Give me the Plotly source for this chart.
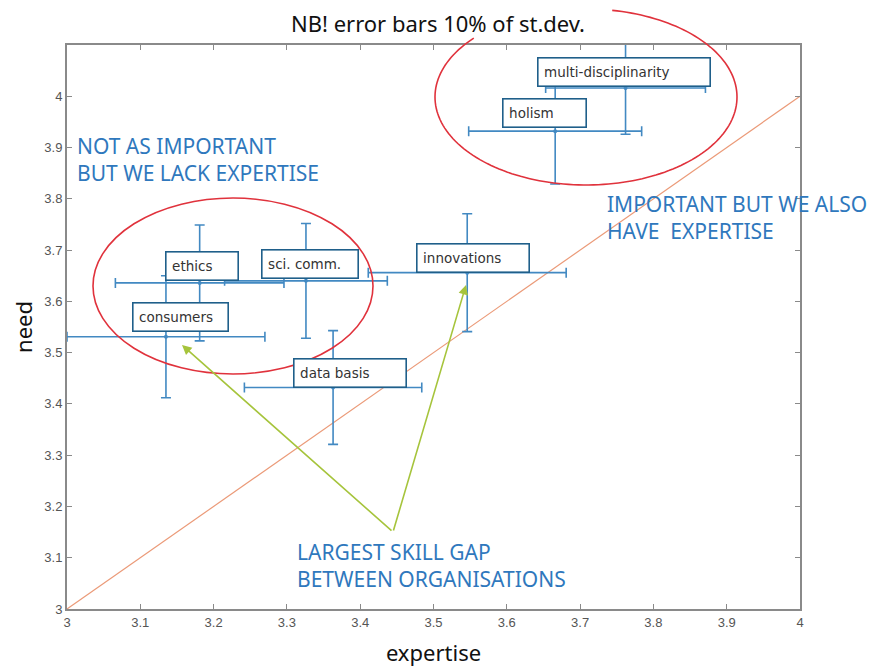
import numpy as np
import plotly.graph_objects as go

# ---- data ----
skills = ["multi-disciplinarity", "holism", "innovations", "sci. comm.",
          "ethics", "consumers", "data basis"]
expertise = [3.762, 3.666, 3.546, 3.326, 3.181, 3.135, 3.363]
need = [4.016, 3.932, 3.656, 3.640, 3.636, 3.531, 3.432]
expertise_err = [0.109, 0.118, 0.135, 0.111, 0.115, 0.135, 0.121]
need_err = [0.090, 0.103, 0.115, 0.112, 0.113, 0.119, 0.111]
diag = [3, 4]

# ---- styling / placement ----
X_RANGE = [3, 4]
Y_RANGE = [3, 4.1]
PAGE_OFF = 8                       # default body margin of the html page
SW, SH = 875, 671                  # screen size
W, H = SW - PAGE_OFF, SH - PAGE_OFF
# plot area in screen pixels
PX0, PX1, PY0, PY1 = 67, 800, 45, 609
L, R, T, B = PX0 - PAGE_OFF, SW - PX1, PY0 - PAGE_OFF, SH - PY1
PW, PH = PX1 - PX0, PY1 - PY0

# label box: pixel shift of box bottom-left from the point, box width
label_shift = [(-89, 1), (-53, 3), (-51, 0), (-45, 2), (-35, 2), (-34, 5), (-40, 0)]
label_width = [174, 85, 114, 98, 74, 97, 114]

ERR_BLUE = "#4289c2"
BOX_EDGE = "#1f5f8a"
TXT_BLUE = "#2f78bd"
RED = "#e0323c"
GREEN = "#a6c43c"
ORANGE = "#eb9a78"
AXIS_GREY = "#8a8a8a"


def px2paper(px, py):
    return (px - PX0) / PW, (PY1 - py) / PH


fig = go.Figure()

fig.add_trace(go.Scatter(
    x=diag, y=diag, mode="lines",
    line=dict(color=ORANGE, width=1.2), hoverinfo="skip", showlegend=False))

fig.add_trace(go.Scatter(
    x=expertise, y=need, mode="markers",
    marker=dict(color=ERR_BLUE, size=4),
    error_x=dict(type="data", array=expertise_err, color=ERR_BLUE, thickness=1.6, width=5),
    error_y=dict(type="data", array=need_err, color=ERR_BLUE, thickness=1.6, width=5),
    showlegend=False))

annotations = []
for name, x, y, (dx, dy), bw in zip(skills, expertise, need, label_shift, label_width):
    annotations.append(dict(
        x=x, y=y, xref="x", yref="y", text=name, showarrow=False,
        xanchor="left", yanchor="bottom", xshift=dx, yshift=dy,
        align="left", valign="middle", width=bw - 14, height=16,
        bgcolor="white", bordercolor=BOX_EDGE, borderwidth=1.6, borderpad=5.5,
        font=dict(family="DejaVu Sans", size=13.5, color="#333333")))

# blue commentary texts
for txt, (px, py) in [
        ("NOT AS IMPORTANT<br>BUT WE LACK EXPERTISE", (75, 159)),
        ("IMPORTANT BUT WE ALSO<br>HAVE  EXPERTISE", (605, 218)),
        ("LARGEST SKILL GAP<br>BETWEEN ORGANISATIONS", (295, 565))]:
    ax_, ay_ = px2paper(px, py)
    annotations.append(dict(
        x=ax_, y=ay_, xref="paper", yref="paper", text=txt, showarrow=False,
        xanchor="left", yanchor="middle", align="left",
        font=dict(family="Noto Sans", size=21, color=TXT_BLUE)))

# green arrows from the "largest skill gap" note
tail_px = (393, 532)
for head in [(182, 345), (466, 285)]:
    hx, hy = px2paper(*head)
    annotations.append(dict(
        x=hx, y=hy, xref="paper", yref="paper",
        ax=tail_px[0] - head[0], ay=tail_px[1] - head[1],
        axref="pixel", ayref="pixel", text="", showarrow=True,
        arrowhead=2, arrowsize=1.2, arrowwidth=1.6, arrowcolor=GREEN))

# red ellipses (hand-drawn highlights)
shapes = []
x0, y0 = px2paper(93, 374)
x1, y1 = px2paper(373, 198)
shapes.append(dict(type="circle", xref="paper", yref="paper",
                   x0=x0, y0=y0, x1=x1, y1=y1,
                   line=dict(color=RED, width=1.6)))

cx, cy, rx, ry = 586, 97, 151, 88
t = np.radians(np.linspace(138, 440, 160))
pts = [px2paper(cx + rx * np.cos(a), cy - ry * np.sin(a)) for a in t]
path = "M " + " L ".join(f"{p[0]:.5f},{p[1]:.5f}" for p in pts)
shapes.append(dict(type="path", xref="paper", yref="paper", path=path,
                   line=dict(color=RED, width=1.6)))

ticks = [3, 3.1, 3.2, 3.3, 3.4, 3.5, 3.6, 3.7, 3.8, 3.9, 4]
tick_text = ["3", "3.1", "3.2", "3.3", "3.4", "3.5", "3.6", "3.7", "3.8", "3.9", "4"]

axis_common = dict(
    showgrid=False, zeroline=False, showline=True, linecolor=AXIS_GREY,
    linewidth=2, mirror="allticks", ticks="inside", ticklen=5,
    tickcolor=AXIS_GREY, tickwidth=1, tickvals=ticks, ticktext=tick_text,
    automargin=False,
    tickfont=dict(family="Liberation Sans Narrow, Liberation Sans, sans-serif",
                  size=13, color="#555555"))

fig.update_layout(
    width=W, height=H, autosize=False,
    margin=dict(l=L, r=R, t=T, b=B, pad=0),
    paper_bgcolor="white", plot_bgcolor="white",
    title=dict(text="NB! error bars 10% of st.dev.", x=(438 - PAGE_OFF) / W,
               xref="container", xanchor="center",
               y=1 - (24 - PAGE_OFF) / H, yref="container", yanchor="middle",
               font=dict(family="Noto Sans", size=22, color="#111111")),
    xaxis=dict(range=X_RANGE,
               title=dict(text="expertise", standoff=17,
                          font=dict(family="Noto Sans", size=22, color="#111111")),
               **axis_common),
    yaxis=dict(range=Y_RANGE,
               title=dict(text="need", standoff=13,
                          font=dict(family="Noto Sans", size=22, color="#111111")),
               **axis_common),
    annotations=annotations, shapes=shapes)

fig.write_html("out.html")
